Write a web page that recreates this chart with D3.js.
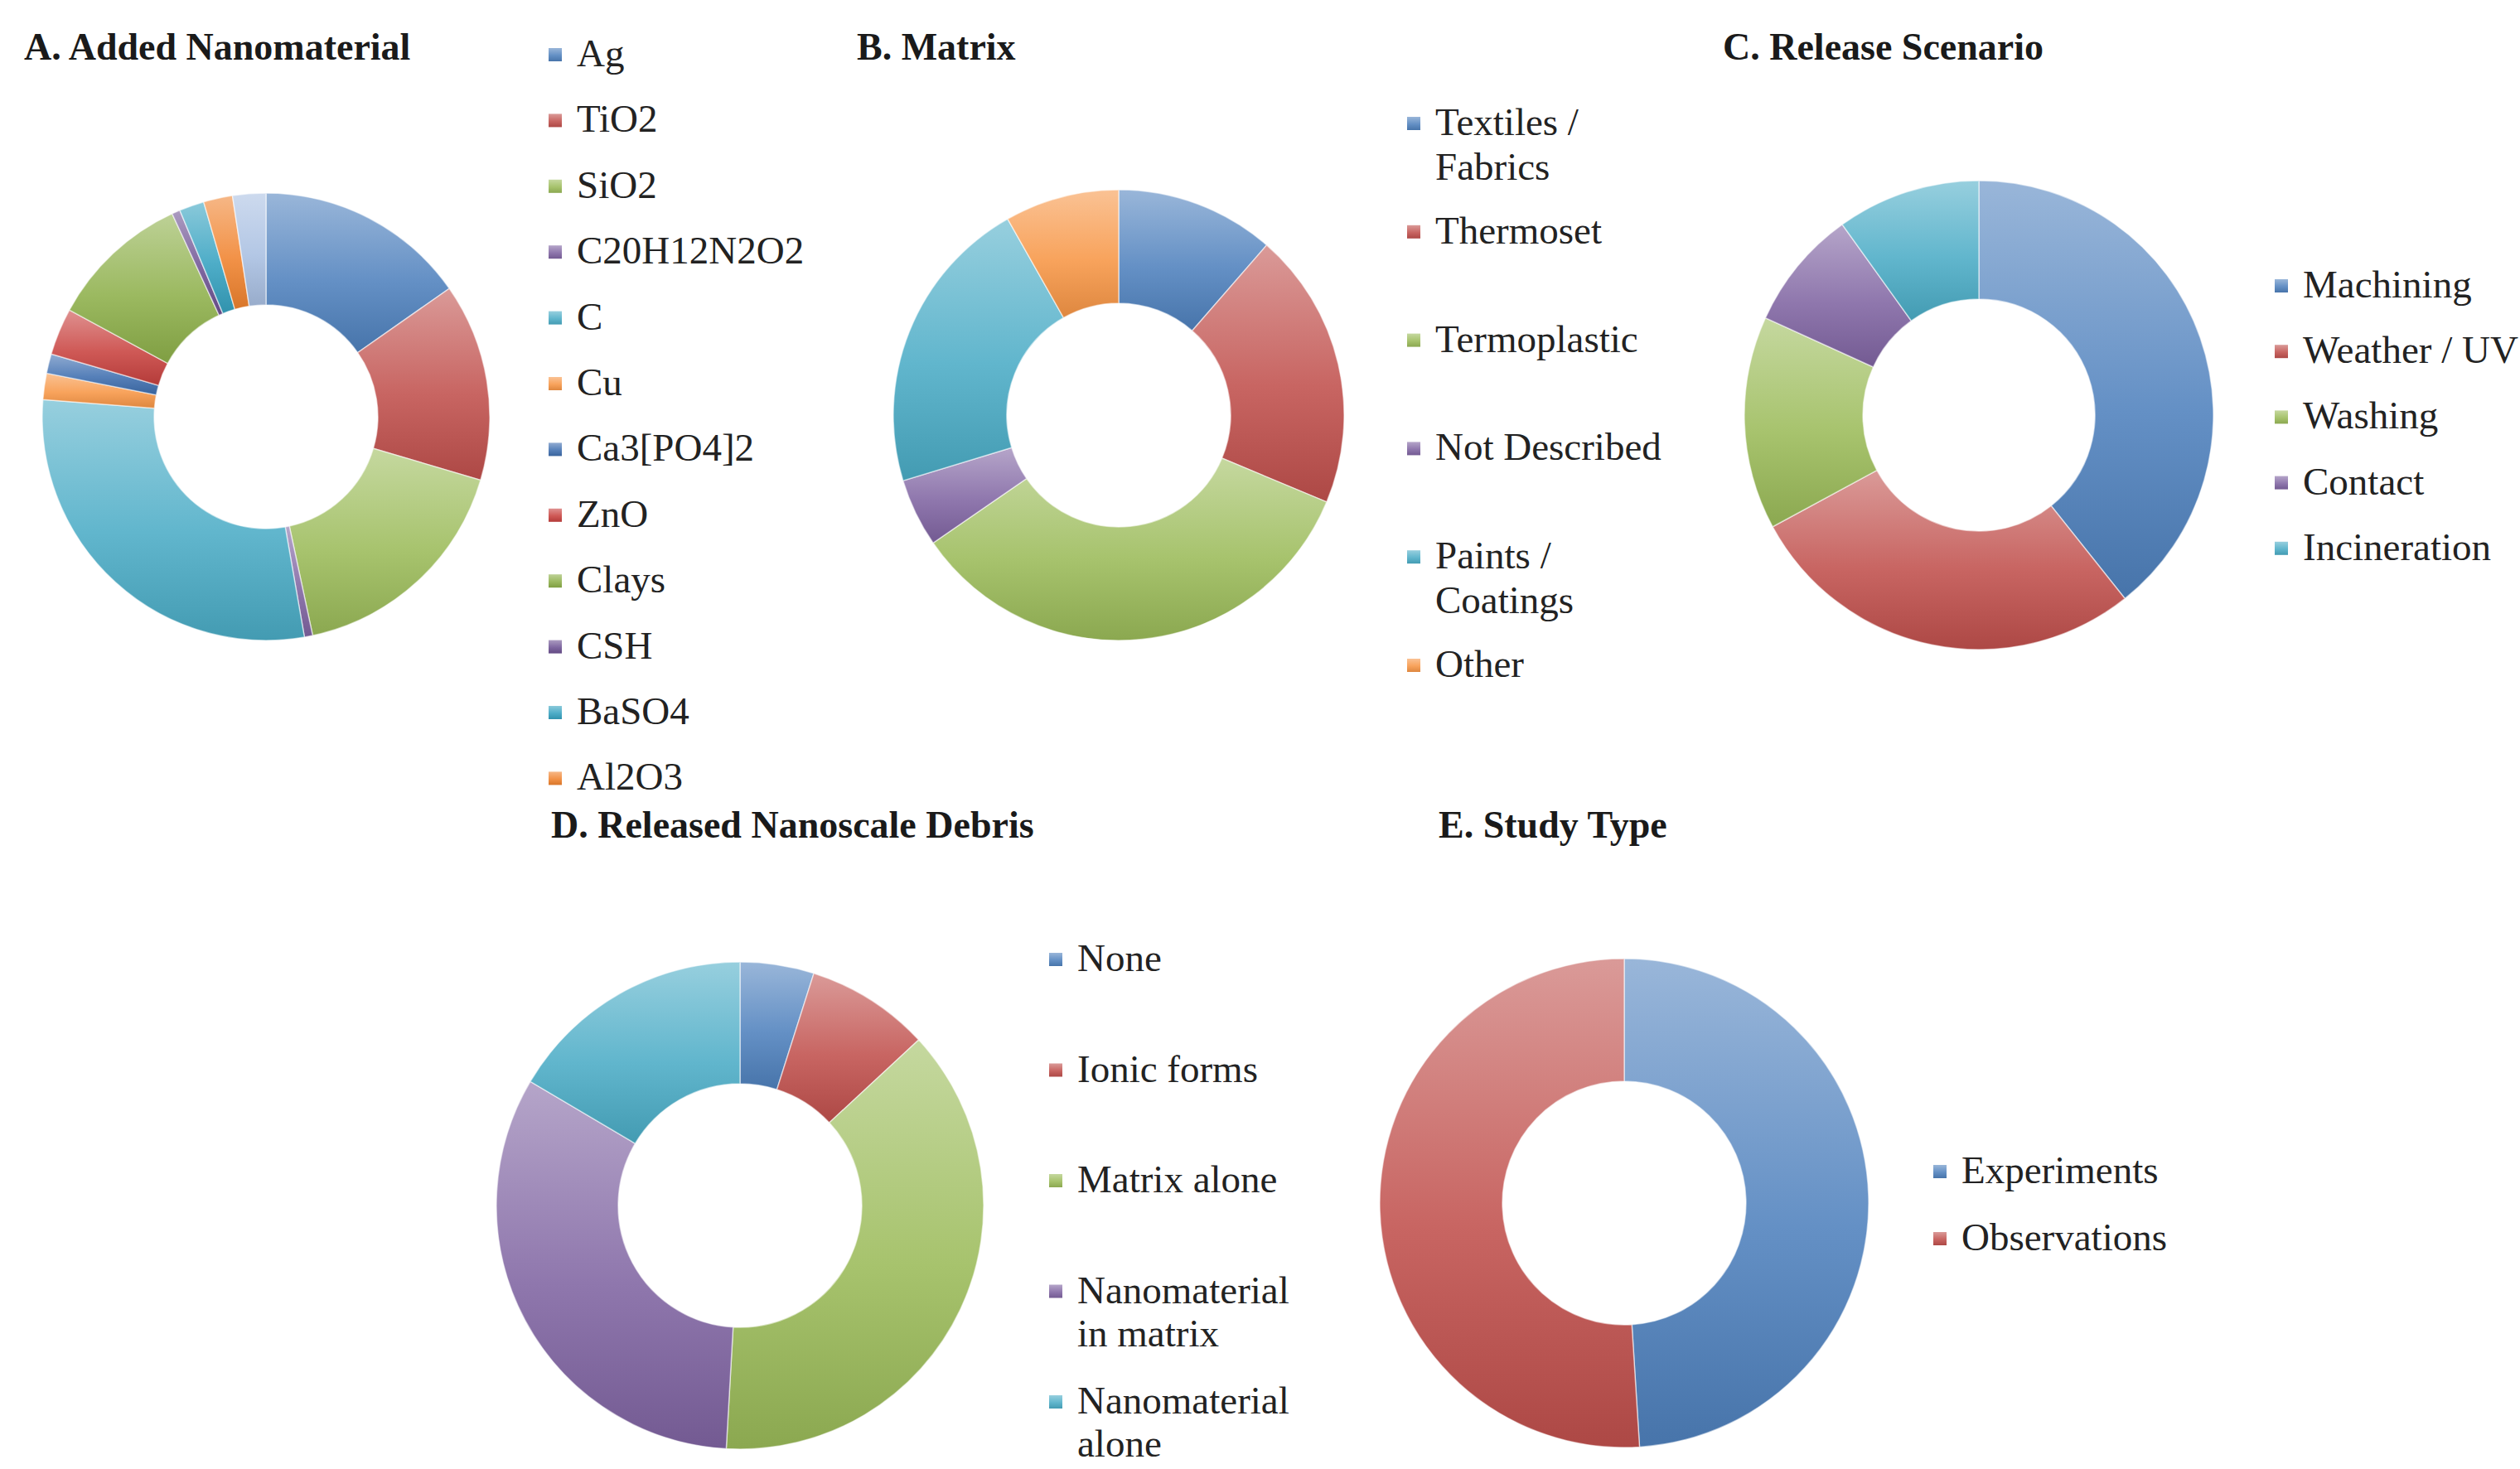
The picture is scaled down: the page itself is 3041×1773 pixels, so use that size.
<!DOCTYPE html>
<html>
<head>
<meta charset="utf-8">
<script src="https://cdn.jsdelivr.net/npm/d3@7"></script>
<style>
  html, body { margin: 0; padding: 0; background: #ffffff; }
  svg { display: block; }
  text { font-family: "Liberation Serif", "Times New Roman", serif; }
</style>
</head>
<body>
<script>
// ---- Data -------------------------------------------------------------
// A. Added nanomaterial (share of studies, %)
const nanoLabels = ["Ag", "TiO2", "SiO2", "C20H12N2O2", "C", "Cu", "Ca3[PO4]2",
                    "ZnO", "Clays", "CSH", "BaSO4", "Al2O3", "Other"];
const nanoValues = [15.3, 14.3, 17.1, 0.6, 29.0, 1.9, 1.4, 3.4, 10.2, 0.6, 1.8, 2.1, 2.4];
const nanoLegendCount = 12;

// B. Matrix
const matrixLabels = ["Textiles /\nFabrics", "Thermoset", "Termoplastic",
                      "Not Described", "Paints /\nCoatings", "Other"];
const matrixValues = [11.4, 19.9, 34.1, 4.9, 21.5, 8.2];

// C. Release scenario
const scenarioLabels = ["Machining", "Weather / UV", "Washing", "Contact", "Incineration"];
const scenarioValues = [39.3, 27.8, 14.7, 8.3, 9.9];

// D. Released nanoscale debris
const debrisLabels = ["None", "Ionic forms", "Matrix alone",
                      "Nanomaterial\nin matrix", "Nanomaterial\nalone"];
const debrisValues = [4.9, 8.2, 37.8, 32.6, 16.5];

// E. Study type
const studyLabels = ["Experiments", "Observations"];
const studyValues = [49, 51];

// ---- Palette ----------------------------------------------------------
const BLUE = "#4F81BD", RED = "#C0504D", GREEN = "#9BBB59",
      PURPLE = "#8064A2", AQUA = "#4BACC6", ORANGE = "#F79646";
const BLUE2 = "#3F6FAF", RED2 = "#C8423F", GREEN2 = "#8DB04A",
      PURPLE2 = "#6E5293", AQUA2 = "#36A2C0", ORANGE2 = "#F0832F",
      LIGHTBLUE = "#A9BFE2";
const baseSix = [BLUE, RED, GREEN, PURPLE, AQUA, ORANGE];
const nanoColors = [BLUE, RED, GREEN, PURPLE, AQUA, ORANGE,
                    BLUE2, RED2, GREEN2, PURPLE2, AQUA2, ORANGE2, LIGHTBLUE];

// ---- Canvas -----------------------------------------------------------
const W = 3041, H = 1773;
const svg = d3.select("body").append("svg")
  .attr("width", W).attr("height", H)
  .attr("viewBox", [0, 0, W, H]);
svg.append("rect").attr("width", W).attr("height", H).attr("fill", "#ffffff");
const defs = svg.append("defs");

// One vertical gradient per colour; it stretches over each slice's own box.
const gradId = new Map();
function gradientFor(color) {
  if (gradId.has(color)) return gradId.get(color);
  const id = "g" + gradId.size;
  const lg = defs.append("linearGradient").attr("id", id)
    .attr("x1", 0).attr("y1", 0).attr("x2", 0).attr("y2", 1);
  lg.append("stop").attr("offset", 0).attr("stop-color", d3.interpolateRgb(color, "#ffffff")(0.42));
  lg.append("stop").attr("offset", 0.55).attr("stop-color", d3.interpolateRgb(color, "#ffffff")(0.12));
  lg.append("stop").attr("offset", 1).attr("stop-color", d3.color(color).darker(0.3).formatHex());
  gradId.set(color, id);
  return id;
}

const TITLE_SIZE = 46, LEGEND_SIZE = 47, TEXT_COLOR = "#222222";

function title(x, y, str) {
  svg.append("text").attr("x", x).attr("y", y)
    .attr("font-size", TITLE_SIZE).attr("font-weight", "bold")
    .attr("fill", "#1a1a1a").text(str);
}

function donut({cx, cy, r, inner, labels, values, colors}) {
  const pie = d3.pie().sort(null).value(d => d.value);
  const arc = d3.arc().outerRadius(r).innerRadius(inner);
  const data = labels.map((l, i) => ({label: l, value: values[i], color: colors[i]}));
  const g = svg.append("g").attr("transform", `translate(${cx},${cy})`);
  g.selectAll("path").data(pie(data)).join("path")
    .attr("d", arc)
    .attr("fill", d => `url(#${gradientFor(d.data.color)})`)
    .attr("stroke", "#ffffff").attr("stroke-opacity", 0.55).attr("stroke-width", 1.5);
}

// Legend: square swatch + label; multi-line labels break on "\n".
function legend({x, y, step, lineHeight, labels, colors, count}) {
  const n = count ?? labels.length;
  const g = svg.append("g");
  const items = g.selectAll("g").data(labels.slice(0, n)).join("g")
    .attr("transform", (d, i) => `translate(${x},${y + i * step})`);
  items.append("rect")
    .attr("x", -34).attr("y", -22).attr("width", 16).attr("height", 16)
    .attr("fill", (d, i) => `url(#${gradientFor(colors[i])})`);
  const t = items.append("text")
    .attr("font-size", LEGEND_SIZE).attr("fill", TEXT_COLOR);
  t.selectAll("tspan").data(d => d.split("\n")).join("tspan")
    .attr("x", 0).attr("y", (d, j) => j * lineHeight).text(d => d);
}

// ---- A. Added Nanomaterial ---------------------------------------------
title(29, 72, "A. Added Nanomaterial");
donut({cx: 321, cy: 503, r: 270, inner: 135,
       labels: nanoLabels, values: nanoValues, colors: nanoColors});
legend({x: 696, y: 80, step: 79.4, lineHeight: 54,
        labels: nanoLabels, colors: nanoColors, count: nanoLegendCount});

// ---- B. Matrix ---------------------------------------------------------
title(1034, 72, "B. Matrix");
donut({cx: 1350, cy: 501, r: 272, inner: 135,
       labels: matrixLabels, values: matrixValues, colors: baseSix});
legend({x: 1732, y: 163, step: 130.8, lineHeight: 54,
        labels: matrixLabels, colors: baseSix});

// ---- C. Release Scenario -----------------------------------------------
title(2079, 72, "C. Release Scenario");
donut({cx: 2388, cy: 501, r: 283, inner: 140,
       labels: scenarioLabels, values: scenarioValues, colors: baseSix});
legend({x: 2779, y: 359, step: 79.2, lineHeight: 54,
        labels: scenarioLabels, colors: baseSix});

// ---- D. Released Nanoscale Debris ---------------------------------------
title(665, 1011, "D. Released Nanoscale Debris");
donut({cx: 893, cy: 1455, r: 294, inner: 147,
       labels: debrisLabels, values: debrisValues, colors: baseSix});
legend({x: 1300, y: 1172, step: 133.5, lineHeight: 52,
        labels: debrisLabels, colors: baseSix});

// ---- E. Study Type -----------------------------------------------------
title(1736, 1011, "E. Study Type");
donut({cx: 1960, cy: 1452, r: 295, inner: 147,
       labels: studyLabels, values: studyValues, colors: baseSix});
legend({x: 2367, y: 1428, step: 81, lineHeight: 54,
        labels: studyLabels, colors: baseSix});
</script>
</body>
</html>
